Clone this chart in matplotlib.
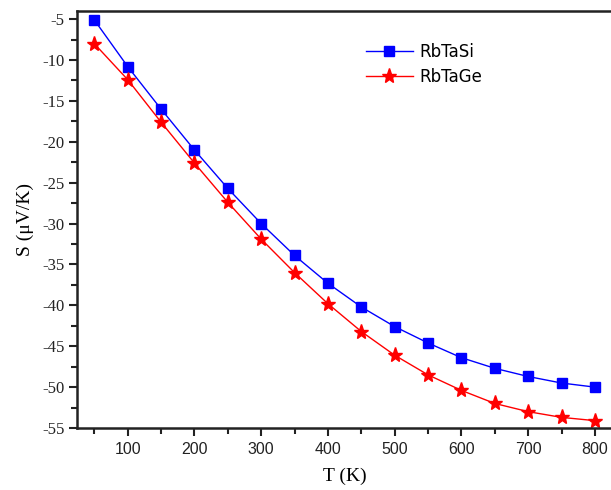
import matplotlib
matplotlib.use("Agg")
import matplotlib.pyplot as plt
from matplotlib.ticker import MultipleLocator

plt.rcParams["axes.unicode_minus"] = False

T = [50, 100, 150, 200, 250, 300, 350, 400, 450, 500, 550, 600, 650, 700, 750, 800]
S_RbTaSi = [-5.1, -10.8, -16.0, -21.0, -25.7, -30.0, -33.9, -37.3, -40.2, -42.6,
            -44.6, -46.4, -47.7, -48.7, -49.5, -50.0]
S_RbTaGe = [-8.0, -12.4, -17.6, -22.6, -27.4, -31.9, -36.0, -39.8, -43.2, -46.1,
            -48.5, -50.4, -52.0, -53.0, -53.7, -54.1]
labels = ["RbTaSi", "RbTaGe"]

fig = plt.figure(figsize=(6.11, 4.90), dpi=100)
ax = fig.add_axes([77/611, 1-428/490, 1-77/611 + 0.002, (428-11)/490])

ax.plot(T, S_RbTaSi, color="#0000ff", marker="s", markersize=7, lw=1.0, label=labels[0])
ax.plot(T, S_RbTaGe, color="#ff0000", marker="*", markersize=11, lw=1.0, label=labels[1])

ax.set_xlim(24, 826)
ax.set_ylim(-55, -4)
ax.xaxis.set_major_locator(MultipleLocator(100))
ax.xaxis.set_minor_locator(MultipleLocator(50))
ax.yaxis.set_major_locator(MultipleLocator(5))
ax.yaxis.set_minor_locator(MultipleLocator(2.5))

for s in ax.spines.values():
    s.set_linewidth(1.8)
    s.set_color("#222222")
ax.spines["right"].set_visible(False)

ax.tick_params(which="major", direction="out", length=6, width=1.5, colors="#222222")
ax.tick_params(which="minor", direction="out", length=4, width=1.5, colors="#222222")
ax.tick_params(axis="x", labelsize=11.5, pad=4)
ax.tick_params(axis="y", labelsize=12, pad=3)
for lab in ax.get_xticklabels():
    lab.set_fontfamily("Liberation Sans")
for lab in ax.get_yticklabels():
    lab.set_fontfamily("Liberation Serif")

ax.set_xlabel("T (K)", fontsize=14, family="Liberation Serif", labelpad=8)
ax.set_ylabel("S (μV/K)", fontsize=14, family="Liberation Serif", labelpad=6)

leg = ax.legend(loc="upper left", bbox_to_anchor=(0.512, 0.96), frameon=False,
                prop={"family": "DejaVu Sans", "size": 12}, handlelength=2.8,
                handletextpad=0.4, labelspacing=0.45)

fig.savefig("out.png", dpi=100)
